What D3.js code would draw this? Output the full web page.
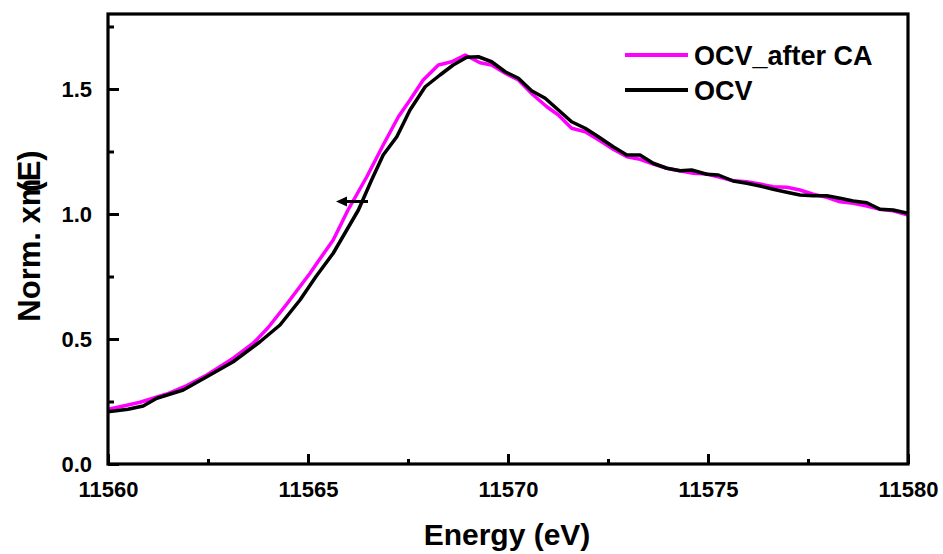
<!DOCTYPE html>
<html>
<head>
<meta charset="utf-8">
<script src="https://cdn.jsdelivr.net/npm/d3@7/dist/d3.min.js"></script>
<style>
  html, body { margin: 0; padding: 0; background: #fff; }
  svg { display: block; }
  text { font-family: Arial, "Liberation Sans", sans-serif; font-weight: bold; fill: #000; }
</style>
</head>
<body>
<svg id="chart" width="943" height="554"></svg>
<script>
// XANES spectra: normalized absorption vs. photon energy
const energyCA = [11560.0, 11560.5, 11560.8, 11561.47, 11561.97, 11562.47, 11563.13, 11563.63, 11564.0, 11564.47,
  11565.05, 11565.2, 11565.63, 11566.0, 11566.47, 11566.88, 11567.26, 11567.55, 11567.88, 11568.26,
  11568.59, 11568.93, 11569.3, 11569.59, 11569.93, 11570.26, 11570.63, 11570.97, 11571.26, 11571.59,
  11571.93, 11572.3, 11572.63, 11572.97, 11573.3, 11573.63, 11573.97, 11574.3, 11574.63, 11574.97,
  11575.3, 11575.63, 11575.97, 11576.3, 11576.63, 11576.97, 11577.3, 11577.63, 11577.97, 11578.3,
  11578.63, 11578.97, 11579.3, 11579.63, 11580.0];
const muCA = [0.219, 0.236, 0.247, 0.280, 0.314, 0.356, 0.423, 0.483, 0.545, 0.640,
  0.763, 0.798, 0.896, 1.016, 1.149, 1.276, 1.389, 1.456, 1.536, 1.596,
  1.609, 1.636, 1.605, 1.596, 1.563, 1.536, 1.476, 1.429, 1.396, 1.343,
  1.329, 1.293, 1.259, 1.229, 1.219, 1.200, 1.183, 1.173, 1.163, 1.160,
  1.147, 1.133, 1.129, 1.120, 1.109, 1.107, 1.096, 1.079, 1.067, 1.049,
  1.043, 1.032, 1.019, 1.013, 0.996];

const energyOCV = [11560.0, 11560.5, 11560.88, 11561.22, 11561.88, 11562.47, 11563.13, 11563.8, 11564.3, 11564.8,
  11565.2, 11565.63, 11566.26, 11566.59, 11566.88, 11567.22, 11567.55, 11567.93, 11568.3, 11568.63,
  11568.97, 11569.26, 11569.59, 11569.93, 11570.26, 11570.59, 11570.93, 11571.26, 11571.59, 11571.93,
  11572.26, 11572.63, 11572.97, 11573.3, 11573.63, 11573.97, 11574.3, 11574.59, 11574.97, 11575.26,
  11575.63, 11575.97, 11576.3, 11576.63, 11576.97, 11577.3, 11577.63, 11577.97, 11578.3, 11578.63,
  11578.97, 11579.3, 11579.63, 11580.0];
const muOCV = [0.209, 0.219, 0.232, 0.263, 0.296, 0.349, 0.409, 0.489, 0.556, 0.656,
  0.750, 0.843, 1.016, 1.136, 1.236, 1.309, 1.416, 1.509, 1.556, 1.596,
  1.627, 1.629, 1.609, 1.569, 1.543, 1.493, 1.463, 1.416, 1.369, 1.343,
  1.309, 1.269, 1.236, 1.236, 1.203, 1.183, 1.173, 1.176, 1.159, 1.156,
  1.132, 1.123, 1.112, 1.099, 1.087, 1.076, 1.073, 1.073, 1.063, 1.052,
  1.045, 1.019, 1.016, 1.003];

const seriesNames = ["OCV_after CA", "OCV"];
const seriesColors = ["#ff00ff", "#000000"];
const xTicks = [11560, 11565, 11570, 11575, 11580];
const xMinorTicks = [11562.5, 11567.5, 11572.5, 11577.5];
const yTicks = [0.0, 0.5, 1.0, 1.5];
const yMinorTicks = [0.25, 0.75, 1.25, 1.75];
// edge-shift arrow (energy from, energy to, level)
const arrowSpec = [11566.5, 11565.7, 1.05];

const svg = d3.select("#chart");
const x = d3.scaleLinear().domain([11560, 11580]).range([108, 908]);
const y = d3.scaleLinear().domain([0, 1.8]).range([464, 14]);

svg.append("defs").append("clipPath").attr("id", "plot-clip")
  .append("rect").attr("x", x(11560)).attr("y", y(1.8))
  .attr("width", x(11580) - x(11560)).attr("height", y(0) - y(1.8));

// spectra
const line = d3.line().x(d => x(d[0])).y(d => y(d[1]));
const series = [
  d3.zip(energyCA, muCA),
  d3.zip(energyOCV, muOCV)
];
const plot = svg.append("g").attr("clip-path", "url(#plot-clip)");
series.forEach((s, i) => {
  plot.append("path").datum(s)
    .attr("fill", "none")
    .attr("stroke", seriesColors[i])
    .attr("stroke-width", 3.5)
    .attr("stroke-linejoin", "round")
    .attr("d", line);
});

// arrow marking the edge shift
const arrowY = y(arrowSpec[2]);
svg.append("line")
  .attr("x1", x(arrowSpec[0])).attr("x2", x(arrowSpec[1]) + 8)
  .attr("y1", arrowY).attr("y2", arrowY)
  .attr("stroke", "#000").attr("stroke-width", 3);
svg.append("path")
  .attr("d", `M${x(arrowSpec[1])},${arrowY} l11,-5 l0,10 z`)
  .attr("fill", "#000");

// axes (ticks point inward)
const fmtY = d3.format(".1f");
const axB = svg.append("g").attr("transform", `translate(0,${y(0)})`)
  .call(d3.axisBottom(x).tickValues(xTicks).tickSize(-10).tickPadding(17).tickFormat(d3.format("d")));
const axBm = svg.append("g").attr("transform", `translate(0,${y(0)})`)
  .call(d3.axisBottom(x).tickValues(xMinorTicks).tickSize(-5).tickFormat(""));
const axL = svg.append("g").attr("transform", `translate(${x(11560)},0)`)
  .call(d3.axisLeft(y).tickValues(yTicks).tickSize(-11).tickPadding(16).tickFormat(fmtY));
const axLm = svg.append("g").attr("transform", `translate(${x(11560)},0)`)
  .call(d3.axisLeft(y).tickValues(yMinorTicks).tickSize(-6).tickFormat(""));
[axB, axBm, axL, axLm].forEach(g => {
  g.select(".domain").remove();
  g.selectAll(".tick line").attr("stroke", "#000").attr("stroke-width", 3);
  g.selectAll(".tick text").attr("font-size", 22).attr("font-weight", "bold")
    .attr("font-family", "Arial, 'Liberation Sans', sans-serif").attr("fill", "#000");
});
axB.selectAll(".tick text").attr("dy", "0.71em");

// frame
svg.append("rect")
  .attr("x", x(11560)).attr("y", y(1.8))
  .attr("width", x(11580) - x(11560)).attr("height", y(0) - y(1.8))
  .attr("fill", "none").attr("stroke", "#000").attr("stroke-width", 3.2);

// axis titles
svg.append("text")
  .attr("x", 507).attr("y", 545)
  .attr("text-anchor", "middle").attr("font-size", 30)
  .text("Energy (eV)");

const yTitle = svg.append("text")
  .attr("transform", "translate(40,236) rotate(-90)")
  .attr("text-anchor", "middle").attr("font-size", 31);
yTitle.append("tspan").text("Norm. xm");
yTitle.append("tspan").attr("dx", -13).text("(E)");

// legend
const legend = svg.append("g");
seriesNames.forEach((name, i) => {
  const ly = 55 + i * 35;
  legend.append("line")
    .attr("x1", 625).attr("x2", 688).attr("y1", ly).attr("y2", ly)
    .attr("stroke", seriesColors[i]).attr("stroke-width", 4);
  legend.append("text")
    .attr("x", 694).attr("y", ly + 10)
    .attr("font-size", 27)
    .text(name);
});
</script>
</body>
</html>
